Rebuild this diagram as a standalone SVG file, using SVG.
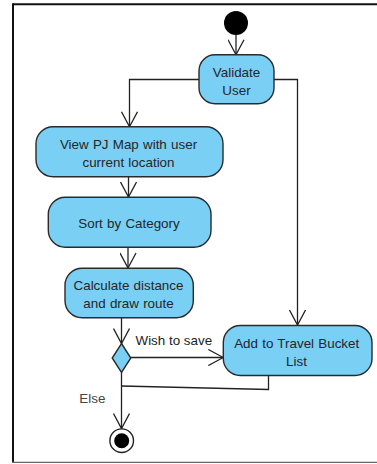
<svg xmlns="http://www.w3.org/2000/svg" width="377" height="464" viewBox="0 0 377 464">
  <defs>
    <style>
      .frame { fill: #ffffff; stroke: none; }
      .act { fill: #7acff5; stroke: #2a2a2a; stroke-width: 1.4; }
      .lbl { font-family: "Liberation Sans", Arial, sans-serif; font-size: 13.4px; fill: #262626; text-anchor: middle; word-spacing: 0.5px; }
      .edge { fill: none; stroke: #222222; stroke-width: 1.3; }
      .elbl { font-family: "Liberation Sans", Arial, sans-serif; font-size: 13.4px; fill: #1e1e1e; }
    </style>
    <marker id="open" viewBox="0 0 17 17" refX="16" refY="8.5" markerWidth="17" markerHeight="17" markerUnits="userSpaceOnUse" orient="auto">
      <path d="M1,0.5 L16,8.5 L1,16.5" fill="none" stroke="#222222" stroke-width="1.3"/>
    </marker>
  </defs>

  <!-- page frame -->
  <rect class="frame" x="0" y="0" width="377" height="464"/>
  <line x1="13" y1="4.3" x2="377" y2="4.3" stroke="#111111" stroke-width="2"/>
  <line x1="13" y1="3.3" x2="13" y2="463" stroke="#111111" stroke-width="2"/>
  <line x1="12" y1="462.3" x2="377" y2="462.3" stroke="#666666" stroke-width="1.3"/>

  <!-- connectors -->
  <g id="connectors">
    <line class="edge" x1="236" y1="35" x2="236" y2="54.7" marker-end="url(#open)"/>
    <polyline class="edge" points="199,79.5 129.5,79.5 129.5,126.7" marker-end="url(#open)"/>
    <polyline class="edge" points="274,79.5 297.5,79.5 297.5,325" marker-end="url(#open)"/>
    <line class="edge" x1="128.5" y1="177" x2="128.5" y2="197" marker-end="url(#open)"/>
    <line class="edge" x1="128" y1="247.5" x2="128" y2="268" marker-end="url(#open)"/>
    <line class="edge" x1="121.5" y1="318" x2="121.5" y2="343.5" marker-end="url(#open)"/>
    <line class="edge" x1="130.8" y1="357.5" x2="223.3" y2="357.5" marker-end="url(#open)"/>
    <text class="elbl" x="135.5" y="345">Wish to save</text>
    <polyline class="edge" points="268.5,375 268.5,389.5 121.5,386"/>
    <line class="edge" x1="121.5" y1="372.5" x2="121.5" y2="428.5" marker-end="url(#open)"/>
    <text class="elbl" x="79.3" y="403.3" style="fill:#444444">Else</text>
  </g>

  <!-- start -->
  <g id="start">
    <circle cx="236" cy="23" r="12" fill="#000000"/>
  </g>

  <g id="validate-user">
    <rect class="act" x="199" y="54.7" width="75" height="49" rx="16" ry="16"/>
    <text class="lbl" x="236.5" y="77">Validate</text>
    <text class="lbl" x="236.5" y="95.3">User</text>
  </g>

  <g id="view-map">
    <rect class="act" x="36" y="126.7" width="187" height="50" rx="17" ry="17"/>
    <text class="lbl" x="128.5" y="149">View PJ Map with user</text>
    <text class="lbl" x="128.5" y="167">current location</text>
  </g>

  <g id="sort-category">
    <rect class="act" x="48.3" y="197.3" width="162.7" height="50" rx="17" ry="17"/>
    <text class="lbl" x="129" y="228.3">Sort by Category</text>
  </g>

  <g id="calculate-route">
    <rect class="act" x="65" y="268.3" width="128.3" height="49.5" rx="17" ry="17"/>
    <text class="lbl" x="128.5" y="290">Calculate distance</text>
    <text class="lbl" x="128.5" y="308.3">and draw route</text>
  </g>

  <g id="save-decision">
    <polygon class="act" points="121.5,343.5 130.8,358 121.5,372.5 112.2,358"/>
  </g>

  <g id="add-bucket-list">
    <rect class="act" x="223.3" y="325.5" width="148.7" height="50" rx="17" ry="17"/>
    <text class="lbl" x="296.7" y="348">Add to Travel Bucket</text>
    <text class="lbl" x="296.5" y="366.3">List</text>
  </g>

  <!-- end -->
  <g id="end">
    <circle cx="121.7" cy="440.7" r="11.8" fill="#ffffff" stroke="#222222" stroke-width="1.4"/>
    <circle cx="121.7" cy="440.7" r="7.5" fill="#000000"/>
  </g>
</svg>
